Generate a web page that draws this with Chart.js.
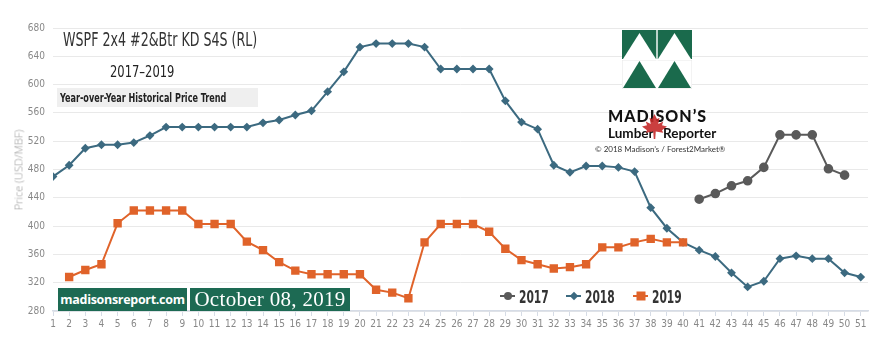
<!DOCTYPE html>
<html>
<head>
<meta charset="utf-8">
<script src="https://cdn.jsdelivr.net/npm/chart.js"></script>
<style>
  body { margin: 0; background: #fff; }
  #wrap { position: relative; width: 895px; height: 343px; overflow: hidden; }
  #chart { position: absolute; left: 0; top: 0; }
  .t { position: absolute; white-space: nowrap; }
  .narrow { font-family: "Liberation Sans Narrow", "DejaVu Sans Condensed", sans-serif; }
  .sq { display: inline-block; transform-origin: left center; }
  #title { left: 63px; top: 28px; font-size: 19px; color: #333; }
  #title .sq { transform: scaleX(0.74); }
  #years { left: 110px; top: 62px; font-size: 16px; color: #222; }
  #years .sq { transform: scaleX(0.8); }
  #trend { left: 57px; top: 88px; width: 201px; height: 19px; background: #efefef; }
  #trend span { position: absolute; left: 3px; top: 2px; font-size: 12.5px; font-weight: bold; color: #222;
                transform: scaleX(0.72); transform-origin: left center; }
  #ytitle { left: 18px; top: 170px; font-family: "Open Sans", sans-serif; font-weight: 300; font-size: 11px; color: #999;
            transform: translate(-50%, -50%) rotate(-90deg); }
  .box { position: absolute; top: 288px; height: 23px; background: #1d6a53; color: #fff; }
  #site { left: 58px; width: 129px; font-family: "Open Sans", sans-serif; font-weight: bold; font-size: 12.5px;
          line-height: 23px; text-align: center; letter-spacing: -0.3px; }
  #date { left: 190px; width: 160px; font-family: "Liberation Serif", serif; font-size: 21px;
          line-height: 23px; text-align: center; letter-spacing: 0.3px; }
  .leg { position: absolute; top: 286px; height: 20px; display: flex; align-items: center; }
  .leg .ln { position: relative; width: 15px; height: 2.5px; margin-right: 4px; }
  .leg .mk { position: absolute; left: 50%; top: 50%; transform: translate(-50%, -50%); }
  .leg span.tx { display: inline-block; font-size: 18px; font-weight: bold; color: #333;
                 transform: scaleX(0.66); transform-origin: left center; }
  #logoName { left: 608px; top: 106px; font-family: Lato, sans-serif; font-weight: 900; font-size: 16px;
              letter-spacing: 1px; color: #111; }
  #logoSub { left: 608px; top: 125px; font-family: Lato, sans-serif; font-weight: bold; font-size: 13.5px; color: #111; }
  #copy { left: 595px; top: 144px; font-family: Lato, sans-serif; font-size: 8px; color: #333; }
</style>
</head>
<body>
<div id="wrap">
  <canvas id="chart" width="895" height="343"></canvas>

  <div id="title" class="t narrow"><span class="sq">WSPF 2x4 #2&amp;Btr KD S4S (RL)</span></div>
  <div id="years" class="t narrow"><span class="sq">2017–2019</span></div>
  <div id="trend" class="t"><span class="narrow">Year-over-Year Historical Price Trend</span></div>
  <div id="ytitle" class="t">Price (USD/MBF)</div>

  <div id="site" class="box">madisonsreport.com</div>
  <div id="date" class="box">October 08, 2019</div>

  <div class="leg narrow" style="left:500px">
    <div class="ln" style="background:#5a5a5a"><div class="mk" style="width:8px;height:8px;border-radius:50%;background:#5a5a5a"></div></div>
    <span class="tx">2017</span>
  </div>
  <div class="leg narrow" style="left:566px">
    <div class="ln" style="background:#3c6a80"><div class="mk" style="width:6px;height:6px;background:#3c6a80;transform:translate(-50%,-50%) rotate(45deg)"></div></div>
    <span class="tx">2018</span>
  </div>
  <div class="leg narrow" style="left:633px">
    <div class="ln" style="background:#e0632a"><div class="mk" style="width:9px;height:9px;background:#e0632a"></div></div>
    <span class="tx">2019</span>
  </div>

  <!-- logo -->
  <svg class="t" style="left:622px;top:30px" width="70" height="59" viewBox="0 0 70 59">
    <rect x="0" y="0" width="70" height="29" fill="#1a6a4c"/>
    <polygon points="1,29 17.5,3 34,29" fill="#fff"/>
    <polygon points="36,29 52.5,3 69,29" fill="#fff"/>
    <rect x="0" y="30" width="70" height="29" fill="#fff" stroke="#ccc" stroke-width="0.5"/>
    <polygon points="1,58 17.5,31 34,58" fill="#1a6a4c"/>
    <polygon points="36,58 52.5,31 69,58" fill="#1a6a4c"/>
    <rect x="34.3" y="0" width="1.4" height="59" fill="#fff"/>
    <rect x="0" y="29" width="70" height="1.2" fill="#fff"/>
  </svg>
  <div id="logoName" class="t">MADISON’S</div>
  <div id="logoSub" class="t">Lumber&nbsp;&nbsp;&nbsp;Reporter</div>
  <svg class="t" style="left:642px;top:114px" width="25" height="25" viewBox="0 0 20 20">
    <polygon fill="#c42a2a" opacity="0.9"
      points="10,0 12,4 14,3 13,8 17,6 16,9 20,10 16,13 17,15 11,14 10.6,20 9.4,20 9,14 3,15 4,13 0,10 4,9 3,6 7,8 6,3 8,4"/>
  </svg>
  <div id="copy" class="t">© 2018 Madison’s / Forest2Market®</div>
</div>

<script>
const weeks = [1, 2, 3, 4, 5, 6, 7, 8, 9, 10, 11, 12, 13, 14, 15, 16, 17, 18, 19, 20,
               21, 22, 23, 24, 25, 26, 27, 28, 29, 30, 31, 32, 33, 34, 35, 36, 37, 38, 39, 40,
               41, 42, 43, 44, 45, 46, 47, 48, 49, 50, 51];

const prices2017 = [null, null, null, null, null, null, null, null, null, null,
                    null, null, null, null, null, null, null, null, null, null,
                    null, null, null, null, null, null, null, null, null, null,
                    null, null, null, null, null, null, null, null, null, null,
                    438, 446, 457, 464, 483, 529, 529, 529, 481, 472, null];

const prices2018 = [470, 486, 510, 515, 515, 518, 528, 540, 540, 540,
                    540, 540, 540, 546, 550, 557, 563, 590, 618, 653,
                    658, 658, 658, 653, 622, 622, 622, 622, 577, 547,
                    537, 486, 476, 485, 485, 483, 477, 426, 397, 377,
                    366, 357, 334, 314, 322, 354, 358, 354, 354, 334, 328];

const prices2019 = [null, 328, 338, 346, 404, 422, 422, 422, 422, 403,
                    403, 403, 378, 366, 349, 337, 332, 332, 332, 332,
                    310, 306, 298, 377, 403, 403, 403, 392, 368, 352,
                    346, 340, 342, 346, 370, 370, 377, 382, 377, 377,
                    null, null, null, null, null, null, null, null, null, null, null];

const yMin = 280;
const yMax = 680;

function toPoints(values) {
    return weeks.map((w, i) => ({ x: w, y: values[i] }));
}

const tickFont = { family: '"Liberation Sans Narrow", "DejaVu Sans Condensed", sans-serif', size: 10 };

const ctx = document.getElementById('chart').getContext('2d');
new Chart(ctx, {
    type: 'line',
    data: {
        datasets: [{
            label: '2019',
            data: toPoints(prices2019),
            borderColor: '#e0632a',
            backgroundColor: '#e0632a',
            borderWidth: 2,
            pointStyle: 'rect',
            pointRadius: 4.5,
            tension: 0
        }, {
            label: '2018',
            data: toPoints(prices2018),
            borderColor: '#3c6a80',
            backgroundColor: '#3c6a80',
            borderWidth: 2,
            pointStyle: 'rectRot',
            pointRadius: 3,
            tension: 0
        }, {
            label: '2017',
            data: toPoints(prices2017),
            borderColor: '#5a5a5a',
            backgroundColor: '#5a5a5a',
            borderWidth: 2,
            pointStyle: 'circle',
            pointRadius: 3.8,
            tension: 0
        }]
    },
    options: {
        responsive: false,
        animation: false,
        devicePixelRatio: 1,
        layout: { padding: { top: 28, right: 27, left: 0, bottom: 0 } },
        plugins: {
            legend: { display: false },
            tooltip: { enabled: false }
        },
        scales: {
            x: {
                type: 'linear',
                min: 1,
                max: 51.45,
                afterBuildTicks: axis => {
                    axis.ticks = weeks.map(w => ({ value: w }));
                },
                afterFit: scale => { scale.height = 32; },
                border: { display: true, color: '#d6dce6', width: 1.5 },
                grid: { drawOnChartArea: false, drawTicks: true, tickLength: 5, color: '#d6dce6' },
                ticks: { stepSize: 1, autoSkip: false, maxRotation: 0, color: '#888', font: tickFont, padding: 2 }
            },
            y: {
                min: yMin,
                max: yMax,
                afterFit: scale => { scale.width = 53; },
                border: { display: false },
                grid: { color: '#e9e9e9', drawTicks: false },
                ticks: { stepSize: 20, color: '#888', font: tickFont, padding: 8 }
            }
        }
    }
});
</script>
</body>
</html>
